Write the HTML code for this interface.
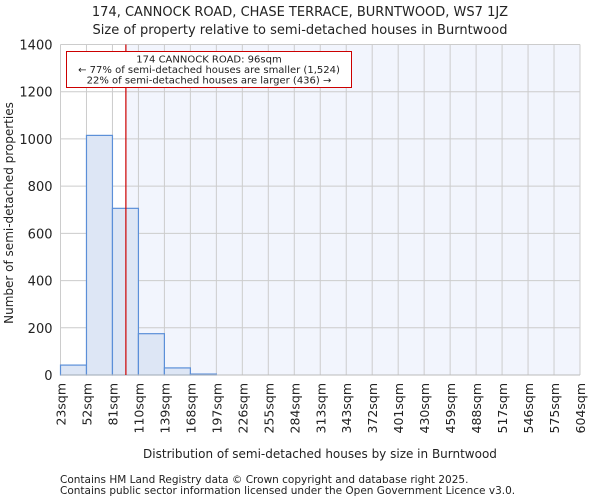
<!DOCTYPE html>
<html><head><meta charset="utf-8"><style>
body{margin:0;background:#fff;font-family:"DejaVu Sans","Liberation Sans",sans-serif}
text{font-family:"DejaVu Sans","Liberation Sans",sans-serif;fill:#222}
</style></head><body>
<svg id="chart" width="600" height="500" xmlns="http://www.w3.org/2000/svg">
<text x="300" y="16" text-anchor="middle" font-size="13">174, CANNOCK ROAD, CHASE TERRACE, BURNTWOOD, WS7 1JZ</text>
<text x="300" y="34" text-anchor="middle" font-size="13">Size of property relative to semi-detached houses in Burntwood</text>
<g id="plot"></g>
<text transform="translate(13,213) rotate(-90)" text-anchor="middle" font-size="12">Number of semi-detached properties</text>
<text x="320" y="458" text-anchor="middle" font-size="12">Distribution of semi-detached houses by size in Burntwood</text>
<text x="60" y="483" font-size="10.5" fill="#444">Contains HM Land Registry data © Crown copyright and database right 2025.</text>
<text x="60" y="494" font-size="10.5" fill="#444">Contains public sector information licensed under the Open Government Licence v3.0.</text>
</svg>
<script>
const binEdges=[23,52,81,110,139,168,197,226,255,284,313,343,372,401,430,459,488,517,546,575,604];
const tickLabels=["23sqm","52sqm","81sqm","110sqm","139sqm","168sqm","197sqm","226sqm","255sqm","284sqm","313sqm","343sqm","372sqm","401sqm","430sqm","459sqm","488sqm","517sqm","546sqm","575sqm","604sqm"];
const counts=[42,1015,706,175,30,4,0,0,0,0,0,0,0,0,0,0,0,0,0,0];
const yTicks=[0,200,400,600,800,1000,1200,1400];
const propertySize=96;
const X0=60.5,X1=580,Y0=375,Y1=44.5,YMAX=1400;
const NS="http://www.w3.org/2000/svg";
const g=document.getElementById('plot');
const xi=i=>X0+(X1-X0)*i/(binEdges.length-1);
function xv(v){for(let i=0;i<binEdges.length-1;i++){if(v<=binEdges[i+1])return xi(i)+(v-binEdges[i])/(binEdges[i+1]-binEdges[i])*(xi(i+1)-xi(i));}return X1;}
const y=v=>Y0-(Y0-Y1)*v/YMAX;
function mk(t,a){const e=document.createElementNS(NS,t);for(const k in a)e.setAttribute(k,a[k]);g.appendChild(e);return e;}
const px=xv(propertySize);
let e=mk('rect',{x:px,y:Y1,width:X1-px,height:Y0-Y1,fill:'#f2f5fd'});


yTicks.forEach(t=>{
 let l=mk('line',{x1:X0,x2:X1,y1:y(t),y2:y(t),stroke:'#ccc','stroke-width':1});
 
 
 let tx=mk('text',{x:X0-8,y:y(t)+5,'text-anchor':'end','font-size':13});
 tx.textContent=t;
 
 
});
binEdges.forEach((b,i)=>{
 let l=mk('line',{x1:xi(i),x2:xi(i),y1:Y1,y2:Y0,stroke:'#ccc','stroke-width':1});
 
 
 let tx=mk('text',{transform:`translate(${xi(i)+5},${Y0+8}) rotate(-90)`,'text-anchor':'end','font-size':12.5});
 tx.textContent=tickLabels[i];
 
 
});
counts.forEach((c,i)=>{
 if(c<=0)return;
 let r=mk('rect',{x:xi(i),y:y(c),width:xi(i+1)-xi(i),height:Y0-y(c),fill:'#dde6f5',stroke:'#5b8fd8','stroke-width':1.2});
 
 
});
let ax=mk('line',{x1:X0,x2:X1,y1:Y0,y2:Y0,stroke:'#bbb','stroke-width':1});


let pl=mk('line',{x1:px,x2:px,y1:Y1,y2:Y0,stroke:'#c00','stroke-width':1.2});


let box=mk('rect',{x:66.5,y:51.5,width:285,height:36,fill:'#fff',stroke:'#c00','stroke-width':1});


["174 CANNOCK ROAD: 96sqm","← 77% of semi-detached houses are smaller (1,524)","22% of semi-detached houses are larger (436) →"].forEach((s,i)=>{
 let t=mk('text',{x:209,y:62.5+i*10.5,'text-anchor':'middle','font-size':10,textLength:i==0?'':'', });
 if(i>0)t.removeAttribute('textLength');else t.removeAttribute('textLength');
 t.textContent=s;
 
 
});
</script>
</body></html>
